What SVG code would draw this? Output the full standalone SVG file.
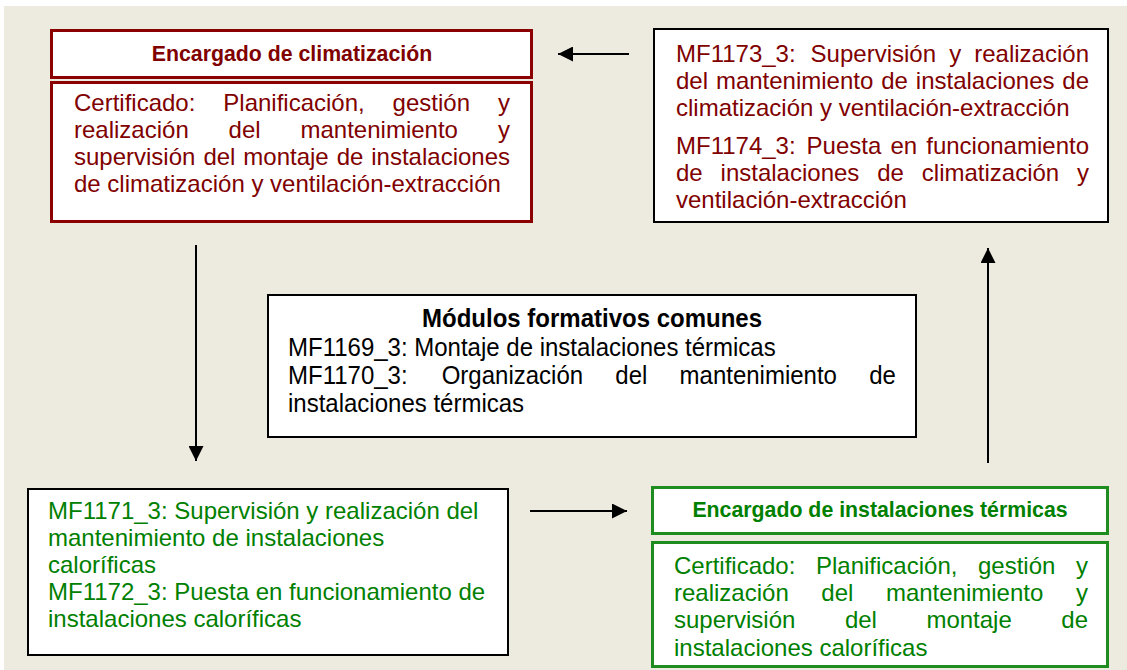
<svg xmlns="http://www.w3.org/2000/svg" width="1127" height="670" viewBox="0 0 1127 670">
<defs>
<style>
.red{fill:#fff;stroke:#8B0000;stroke-width:3}
.grn{fill:#fff;stroke:#1E8C1E;stroke-width:3}
.blk{fill:#fff;stroke:#000;stroke-width:2}
text{font-family:"Liberation Sans",Arial,sans-serif;font-size:24px}
.tr{fill:#800000}
.tg{fill:#008000}
.tb{fill:#000}
.h{font-weight:bold;font-size:21.3px;text-anchor:middle}
.n{font-size:25px}
.e{text-anchor:end}
.conn{stroke:#000;stroke-width:2;fill:none}
</style>
<marker id="ah" viewBox="0 0 10 10" refX="10" refY="5" markerWidth="7.5" markerHeight="7.5" markerUnits="strokeWidth" orient="auto">
<path d="M0,0 L10,5 L0,10 z" fill="#000"/>
</marker>
</defs>
<rect x="0" y="0" width="1127" height="670" fill="#fff"/>
<rect x="4" y="6" width="1123" height="664" fill="#EDEADF"/>

<g id="connectors">
<line class="conn" x1="629" y1="54" x2="558" y2="54" marker-end="url(#ah)"/>
<line class="conn" x1="196" y1="245" x2="196" y2="461" marker-end="url(#ah)"/>
<line class="conn" x1="988" y1="463" x2="988" y2="248" marker-end="url(#ah)"/>
<line class="conn" x1="530" y1="511" x2="627" y2="511" marker-end="url(#ah)"/>
</g>

<g id="encargado-climatizacion">
<rect class="red" x="51.5" y="30.5" width="480" height="47"/>
<text class="tr h" x="292" y="61">Encargado de climatización</text>
<rect class="red" x="51.5" y="82.5" width="480" height="139"/>
<text class="tr" y="111"><tspan x="74">Certificado:</tspan><tspan x="223.3">Planificación,</tspan><tspan x="392.6">gestión</tspan><tspan class="e" x="510">y</tspan></text>
<text class="tr" y="138"><tspan x="74">realización</tspan><tspan x="228.6">del</tspan><tspan x="300.5">mantenimiento</tspan><tspan class="e" x="510">y</tspan></text>
<text class="tr" y="165"><tspan x="74">supervisión</tspan><tspan x="203.4">del</tspan><tspan x="243.3">montaje</tspan><tspan x="336.7">de</tspan><tspan class="e" x="510">instalaciones</tspan></text>
<text class="tr" x="74" y="192">de climatización y ventilación-extracción</text>
</g>

<g id="modulos-climatizacion">
<rect class="blk" x="654" y="29" width="454" height="193"/>
<text class="tr" y="62"><tspan x="676">MF1173_3:</tspan><tspan x="810.6">Supervisión</tspan><tspan x="949.2">y</tspan><tspan class="e" x="1089">realización</tspan></text>
<text class="tr" y="89"><tspan x="676">del</tspan><tspan x="715.9">mantenimiento</tspan><tspan x="881.2">de</tspan><tspan x="915.8">instalaciones</tspan><tspan class="e" x="1089">de</tspan></text>
<text class="tr" x="676" y="116">climatización y ventilación-extracción</text>
<text class="tr" y="154"><tspan x="676">MF1174_3:</tspan><tspan x="806.6">Puesta</tspan><tspan x="890.5">en</tspan><tspan class="e" x="1089">funcionamiento</tspan></text>
<text class="tr" y="181"><tspan x="676">de</tspan><tspan x="720.6">instalaciones</tspan><tspan x="877.2">de</tspan><tspan x="921.8">climatización</tspan><tspan class="e" x="1089">y</tspan></text>
<text class="tr" x="676" y="208">ventilación-extracción</text>
</g>

<g id="modulos-comunes">
<rect class="blk" x="268" y="295" width="648" height="142"/>
<g transform="translate(288 0) scale(0.96 1)">
<text class="tb n" x="316.7" y="327" font-weight="bold" text-anchor="middle">Módulos formativos comunes</text>
<text class="tb n" x="0" y="356">MF1169_3: Montaje de instalaciones térmicas</text>
<text class="tb n" y="384"><tspan x="0">MF1170_3:</tspan><tspan x="160.1">Organización</tspan><tspan x="341">del</tspan><tspan x="407.9">mantenimiento</tspan><tspan class="e" x="633.3">de</tspan></text>
<text class="tb n" x="0" y="412">instalaciones térmicas</text>
</g>
</g>

<g id="modulos-calorificas">
<rect class="blk" x="28" y="489" width="480" height="166"/>
<text class="tg" x="48" y="519">MF1171_3: Supervisión y realización del</text>
<text class="tg" x="48" y="546">mantenimiento de instalaciones</text>
<text class="tg" x="48" y="573">caloríficas</text>
<text class="tg" x="48" y="600">MF1172_3: Puesta en funcionamiento de</text>
<text class="tg" x="48" y="627">instalaciones caloríficas</text>
</g>

<g id="encargado-termicas">
<rect class="grn" x="652.5" y="487.5" width="455" height="46"/>
<text class="tg h" x="880" y="517">Encargado de instalaciones térmicas</text>
<rect class="grn" x="652.5" y="542.5" width="455" height="124"/>
<text class="tg" y="574"><tspan x="674">Certificado:</tspan><tspan x="816">Planificación,</tspan><tspan x="978">gestión</tspan><tspan class="e" x="1088">y</tspan></text>
<text class="tg" y="601"><tspan x="674">realización</tspan><tspan x="821.3">del</tspan><tspan x="885.9">mantenimiento</tspan><tspan class="e" x="1088">y</tspan></text>
<text class="tg" y="628"><tspan x="674">supervisión</tspan><tspan x="844.9">del</tspan><tspan x="926.4">montaje</tspan><tspan class="e" x="1088">de</tspan></text>
<text class="tg" x="674" y="656">instalaciones caloríficas</text>
</g>
</svg>
